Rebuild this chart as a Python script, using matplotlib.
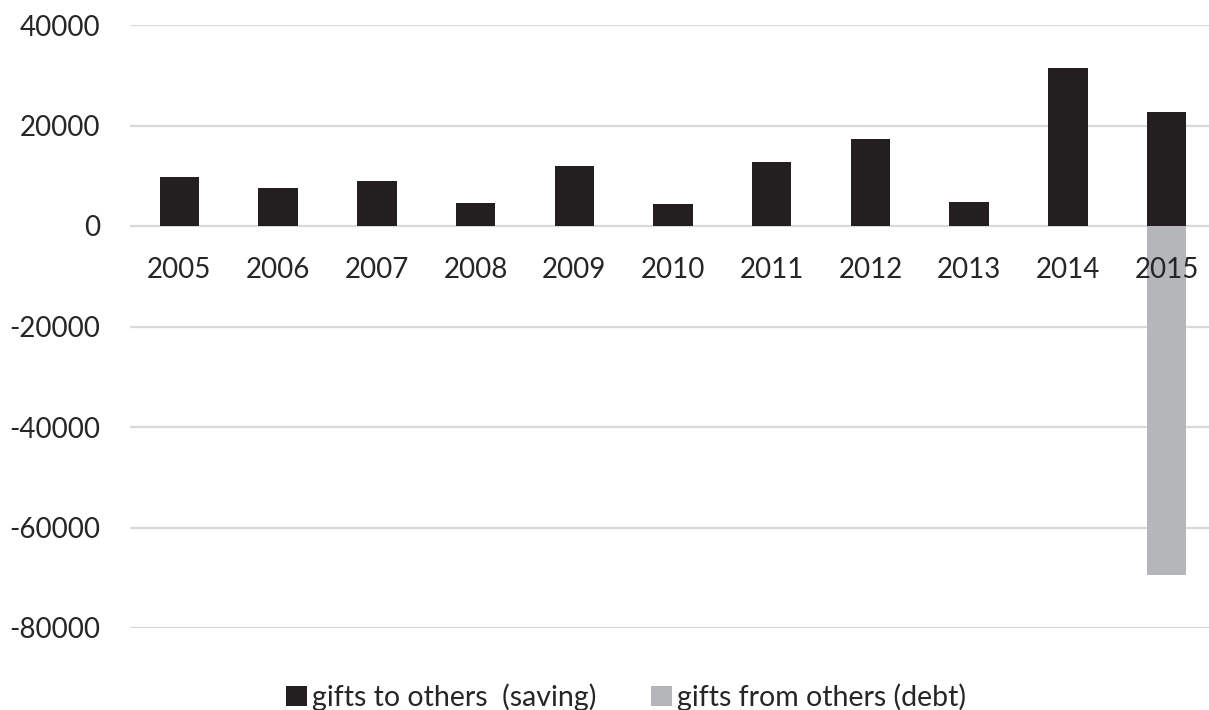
import matplotlib
matplotlib.use("Agg")
import matplotlib.pyplot as plt
from matplotlib.patches import Patch

years = ["2005", "2006", "2007", "2008", "2009", "2010", "2011", "2012", "2013", "2014", "2015"]
gifts_to_others = [9750, 7500, 8900, 4500, 12000, 4400, 12700, 17300, 4800, 31500, 22700]
gifts_from_others = [0, 0, 0, 0, 0, 0, 0, 0, 0, 0, -69500]
series_names = ["gifts to others  (saving)", "gifts from others (debt)"]
yticks = [40000, 20000, 0, -20000, -40000, -60000, -80000]

plt.rcParams['font.family'] = ['Lato', 'DejaVu Sans']

W, H = 1209, 710
fig = plt.figure(figsize=(W / 100, H / 100), dpi=100)
left, right = 130, 1216
top, bottom = 25, 628
ax = fig.add_axes([left / W, 1 - bottom / H, (right - left) / W, (bottom - top) / H])

text_color = "#262626"
black = "#231f20"
gray = "#b5b6b9"
x = list(range(len(years)))
ax.bar(x, gifts_to_others, width=0.4, color=black, zorder=2)
ax.bar(x, gifts_from_others, width=0.4, color=gray, zorder=2)

ax.set_xlim(-0.5, len(years) - 0.5)
ax.set_ylim(min(yticks), max(yticks))
ax.set_yticks(yticks)
ax.set_yticklabels([str(v) for v in yticks])
ax.yaxis.grid(True, color="#d9d9d9", linewidth=1.6)
ax.set_axisbelow(True)

for s in ax.spines.values():
    s.set_visible(False)

ax.set_xticks([])
for i, yr in enumerate(years):
    ax.annotate(yr, xy=(i, 0), xytext=(0, -37.4), textcoords='offset points',
                ha='center', va='baseline', fontsize=20, color=text_color, zorder=5)
ax.tick_params(axis='y', length=0, pad=21.6, labelsize=20, labelcolor=text_color)

handles = [Patch(facecolor=black, edgecolor='none'), Patch(facecolor=gray, edgecolor='none')]
fig.legend(handles, series_names, loc='center', bbox_to_anchor=(626 / W, 1 - 697 / H),
           ncol=2, frameon=False, fontsize=20.5, handlelength=0.74, handleheight=0.74,
           handletextpad=0.18, columnspacing=1.9, labelcolor=text_color,
           borderpad=0, borderaxespad=0)

fig.savefig("out.png", dpi=100, facecolor="white")
